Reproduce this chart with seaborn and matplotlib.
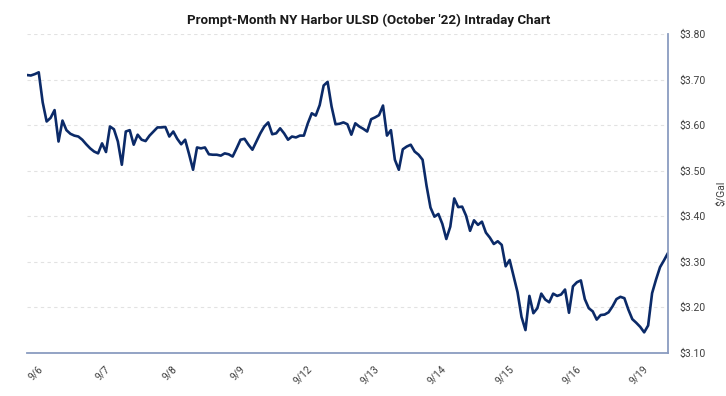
import numpy as np
import pandas as pd
import matplotlib
matplotlib.use("Agg")
import matplotlib.pyplot as plt
import seaborn as sns
from matplotlib.ticker import FuncFormatter, MultipleLocator

# Trading-day labels shown on the x axis
dates = ["9/6", "9/7", "9/8", "9/9", "9/12", "9/13", "9/14", "9/15", "9/16", "9/19"]

# Intraday prices ($/gal), one list per session
sep06 = [3.710, 3.709, 3.712, 3.716, 3.650, 3.608, 3.616, 3.633, 3.564, 3.610,
         3.589, 3.581, 3.577, 3.575, 3.568, 3.558, 3.549]
sep07 = [3.542, 3.538, 3.560, 3.541, 3.597, 3.591, 3.564, 3.513, 3.586, 3.589,
         3.557, 3.579, 3.568, 3.565, 3.577, 3.586, 3.595]
sep08 = [3.595, 3.596, 3.575, 3.586, 3.570, 3.558, 3.568, 3.536, 3.502, 3.551,
         3.549, 3.551, 3.536, 3.535, 3.535, 3.533, 3.538]
sep09 = [3.536, 3.531, 3.549, 3.568, 3.570, 3.557, 3.546, 3.564, 3.582, 3.597,
         3.606, 3.580, 3.582, 3.593, 3.582, 3.568, 3.575]
sep12 = [3.573, 3.577, 3.577, 3.604, 3.626, 3.621, 3.644, 3.687, 3.695, 3.641,
         3.602, 3.603, 3.606, 3.602, 3.579, 3.604, 3.597]
sep13 = [3.592, 3.586, 3.613, 3.617, 3.622, 3.643, 3.577, 3.589, 3.524, 3.502,
         3.547, 3.553, 3.557, 3.542, 3.535, 3.524, 3.467]
sep14 = [3.419, 3.399, 3.405, 3.383, 3.350, 3.377, 3.439, 3.420, 3.421, 3.401,
         3.368, 3.391, 3.381, 3.388, 3.364, 3.353, 3.339]
sep15 = [3.345, 3.337, 3.290, 3.304, 3.269, 3.233, 3.179, 3.150, 3.225, 3.187,
         3.198, 3.230, 3.217, 3.211, 3.230, 3.225, 3.228]
sep16 = [3.239, 3.188, 3.246, 3.255, 3.259, 3.218, 3.198, 3.191, 3.173, 3.183,
         3.184, 3.189, 3.202, 3.218, 3.223, 3.220, 3.195]
sep19 = [3.174, 3.166, 3.157, 3.145, 3.160, 3.231, 3.261, 3.288, 3.303, 3.319]

prices = sep06 + sep07 + sep08 + sep09 + sep12 + sep13 + sep14 + sep15 + sep16 + sep19
steps_per_day = 17
start = -0.16  # first print comes a little before the first date tick
df = pd.DataFrame({
    "t": start + np.arange(len(prices)) / steps_per_day,
    "price": prices,
})

sns.set_style("white")
plt.rcParams["font.family"] = ["Roboto", "DejaVu Sans"]

fig, ax = plt.subplots(figsize=(7.26, 3.96), dpi=100)
fig.subplots_adjust(left=0.037, right=0.920, top=0.914, bottom=0.109)

sns.lineplot(data=df, x="t", y="price", color="#0b2a68", linewidth=1.9, ax=ax)

ax.set_xlim(df["t"].iloc[0], df["t"].iloc[-1])
ax.set_ylim(3.10, 3.80)
ax.yaxis.set_major_locator(MultipleLocator(0.10))
ax.yaxis.set_major_formatter(FuncFormatter(lambda v, _: f"${v:.2f}"))
ax.yaxis.tick_right()
ax.yaxis.set_label_position("right")
ax.set_ylabel("$/Gal", fontsize=7.5, color="#404040", labelpad=8)
ax.set_xlabel("")

ax.set_xticks(range(len(dates)))
ax.set_xticklabels(dates, rotation=45, ha="right", rotation_mode="anchor")
ax.tick_params(axis="x", labelsize=7.5, colors="#404040", length=0, pad=8)
ax.tick_params(axis="y", labelsize=7.5, colors="#404040", length=0, pad=8)

ax.grid(axis="y", color="#e2e2e2", linestyle=(0, (3, 3)), linewidth=0.8)
ax.grid(axis="x", visible=False)
for side in ["top", "left"]:
    ax.spines[side].set_visible(False)
for side in ["right", "bottom"]:
    ax.spines[side].set_color("#8a9cc0")
    ax.spines[side].set_linewidth(1.3)

fig.suptitle("Prompt-Month NY Harbor ULSD (October '22) Intraday Chart",
             x=0.508, y=0.965, fontsize=9.6, fontweight="bold", color="#1a1a1a")

fig.savefig("out.png", dpi=100)
